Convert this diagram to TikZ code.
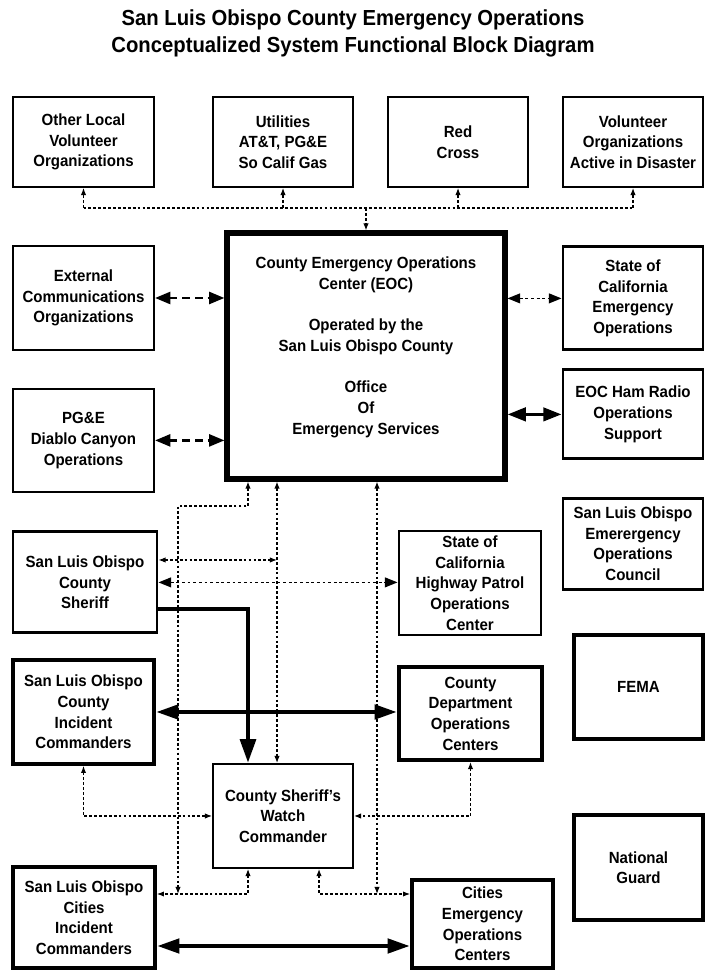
\documentclass[tikz,border=0pt]{standalone}
\usepackage{fontspec}
\setmainfont{Liberation Sans}[FakeStretch=0.93]
\usepackage{tikz}
\usetikzlibrary{arrows.meta}

\newcommand\boxfont{\fontsize{11.5}{14.7}\selectfont\bfseries}
\newcommand\titlefont{\fontsize{15.5}{19.2}\selectfont\bfseries}

\begin{document}
\begin{tikzpicture}[
  box/.style={draw, line width=1.4pt, align=center, inner sep=0pt, font=\boxfont},
  midbox/.style={box, line width=2.1pt},
  heavybox/.style={box, line width=2.8pt},
  eocbox/.style={box, line width=3.6pt},
  dotline/.style={line width=0.8pt, dash pattern=on 2pt off 1.5pt},
  dotarr/.style={dotline, -{Latex[length=5pt,width=3.8pt]}},
  dotboth/.style={dotline, {Latex[length=5pt,width=3.8pt]}-{Latex[length=5pt,width=3.8pt]}},
  dotbig/.style={line width=1pt, dash pattern=on 2pt off 2pt, {Triangle[length=9pt,width=7pt]}-{Triangle[length=9pt,width=7pt]}},
  dasharr/.style={line width=2pt, dash pattern=on 5.5pt off 3.5pt, {Triangle[length=11pt,width=8.5pt]}-{Triangle[length=11pt,width=8.5pt]}},
  solidarr/.style={line width=2.3pt, {Triangle[length=13pt,width=9.5pt]}-{Triangle[length=13pt,width=9.5pt]}},
  heavyarr/.style={line width=3.2pt, -{Triangle[length=17pt,width=11pt]}},
  heavyboth/.style={line width=3.2pt, {Triangle[length=16pt,width=10pt]}-{Triangle[length=16pt,width=10pt]}},
]
\useasboundingbox (0,0) rectangle (17.65,24.3);

% ====== TITLE ======
\node[font=\titlefont, align=center] (title) at (8.825, 23.46) {San Luis Obispo County Emergency Operations\\Conceptualized System Functional Block Diagram};

% ====== TOP ROW ======
\node[box, minimum width=3.525cm, minimum height=2.25cm] (ovol) at (2.0875, 20.75) {Other Local\\Volunteer\\Organizations};
\node[box, minimum width=3.5cm, minimum height=2.25cm] (util) at (7.075, 20.75) {Utilities\\AT\&T,  PG\&E\\So Calif Gas};
\node[box, minimum width=3.5cm, minimum height=2.25cm] (redx) at (11.45, 20.75) {Red\\Cross};
\node[box, minimum width=3.5cm, minimum height=2.25cm] (voad) at (15.825, 20.75) {Volunteer\\Organizations\\Active in Disaster};

% EOC in the middle
\node[eocbox, minimum width=6.95cm, minimum height=6.15cm] (eoc) at (9.15, 15.4) {County Emergency Operations\\Center (EOC)\\[14.7pt]Operated by the\\San Luis Obispo County\\[14.7pt]Office\\Of\\Emergency Services\\\mbox{}};

% Left column
\node[box, minimum width=3.525cm, minimum height=2.6cm] (ext) at (2.0875, 16.85) {External\\Communications\\Organizations};
\node[box, minimum width=3.525cm, minimum height=2.575cm] (pge) at (2.0875, 13.29) {PG\&E\\Diablo Canyon\\Operations};
\node[midbox, minimum width=3.6cm, minimum height=2.525cm] (sheriff) at (2.125, 9.74) {San Luis Obispo\\County\\Sheriff};
\node[heavybox, minimum width=3.525cm, minimum height=2.6cm] (cic) at (2.0875, 6.5) {San Luis Obispo\\County\\Incident\\Commanders};
\node[heavybox, minimum width=3.55cm, minimum height=2.525cm] (ctic) at (2.1, 1.36) {San Luis Obispo\\Cities\\Incident\\Commanders};

% Right column
\node[midbox, minimum width=3.5cm, minimum height=2.575cm] (state) at (15.825, 16.84) {State of\\California\\Emergency\\Operations};
\node[midbox, minimum width=3.5cm, minimum height=2.225cm] (ham) at (15.825, 13.94) {EOC Ham Radio\\Operations\\Support};
\node[midbox, minimum width=3.5cm, minimum height=2.275cm] (council) at (15.825, 10.71) {San Luis Obispo\\Emerergency\\Operations\\Council};
\node[heavybox, minimum width=3.225cm, minimum height=2.6cm] (fema) at (15.9625, 7.125) {FEMA};
\node[heavybox, minimum width=3.225cm, minimum height=2.625cm] (guard) at (15.9625, 2.61) {National\\Guard};

% Middle column
\node[midbox, minimum width=3.55cm, minimum height=2.6cm] (chp) at (11.75, 9.725) {State of\\California\\Highway Patrol\\Operations\\Center};
\node[heavybox, minimum width=3.575cm, minimum height=2.325cm] (cdoc) at (11.7625, 6.46) {County\\Department\\Operations\\Centers};
\node[box, minimum width=3.5cm, minimum height=2.6cm] (watch) at (7.075, 3.9) {County Sheriff's\\Watch\\Commander};
\node[heavybox, minimum width=3.525cm, minimum height=2.2cm] (ceoc) at (12.0625, 1.2) {Cities\\Emergency\\Operations\\Centers};

% Routing points
\coordinate (topbus) at (9.15, 19.1);
\coordinate (turn) at (6.2, 11.65);
\coordinate (colA) at (4.45, 0);
\coordinate (colB) at (6.2, 0);
\coordinate (colC) at (6.925, 0);
\coordinate (colD) at (9.425, 0);
\coordinate (colE) at (7.975, 0);
\coordinate (rowA) at (0, 10.3);
\coordinate (rowB) at (0, 9.075);
\coordinate (citybus) at (0, 1.95);
\coordinate (rowC) at (0, 0.65);

% ====== CONNECTORS ======
% Top bus
\draw[dotline] (ovol.south |- topbus) -- (voad.south |- topbus);
\foreach \b in {ovol,util,redx,voad}
  \draw[dotarr] (\b.south |- topbus) -- (\b.south);
\draw[dotarr] (topbus) -- (eoc.north);

% Sides of the EOC
\draw[dasharr] (ext.east) -- (ext.east -| eoc.west);
\draw[dasharr] (pge.east) -- (pge.east -| eoc.west);
\draw[dotbig] (eoc.east |- state.west) -- (state.west);
\draw[solidarr] (eoc.east |- ham.west) -- (ham.west);

% Below the EOC
\draw[dotboth] (eoc.south -| colB) -- (turn) -| (colA |- citybus);
\draw[dotboth] (eoc.south -| colC) -- (watch.north -| colC);
\draw[dotboth] (eoc.south -| colD) -- (colD |- citybus);
\draw[dotboth] (sheriff.east |- rowA) -- (colC |- rowA);
\draw[dotbig] (sheriff.east) -- (sheriff.east -| chp.west);
\draw[heavyarr] (sheriff.east |- rowB) -| (watch.north -| colB);
\draw[heavyboth] (cic.east) -- (cic.east -| cdoc.west);

% Watch commander
\draw[dotboth] (cic.south) |- (watch.west);
\draw[dotboth] (cdoc.south) |- (watch.east);
\draw[dotboth] (watch.south -| colB) |- (ctic.east |- citybus);
\draw[dotboth] (watch.south -| colE) |- (ceoc.west |- citybus);

% Bottom
\draw[heavyboth] (ctic.east |- rowC) -- (ceoc.west |- rowC);

\end{tikzpicture}
\end{document}
